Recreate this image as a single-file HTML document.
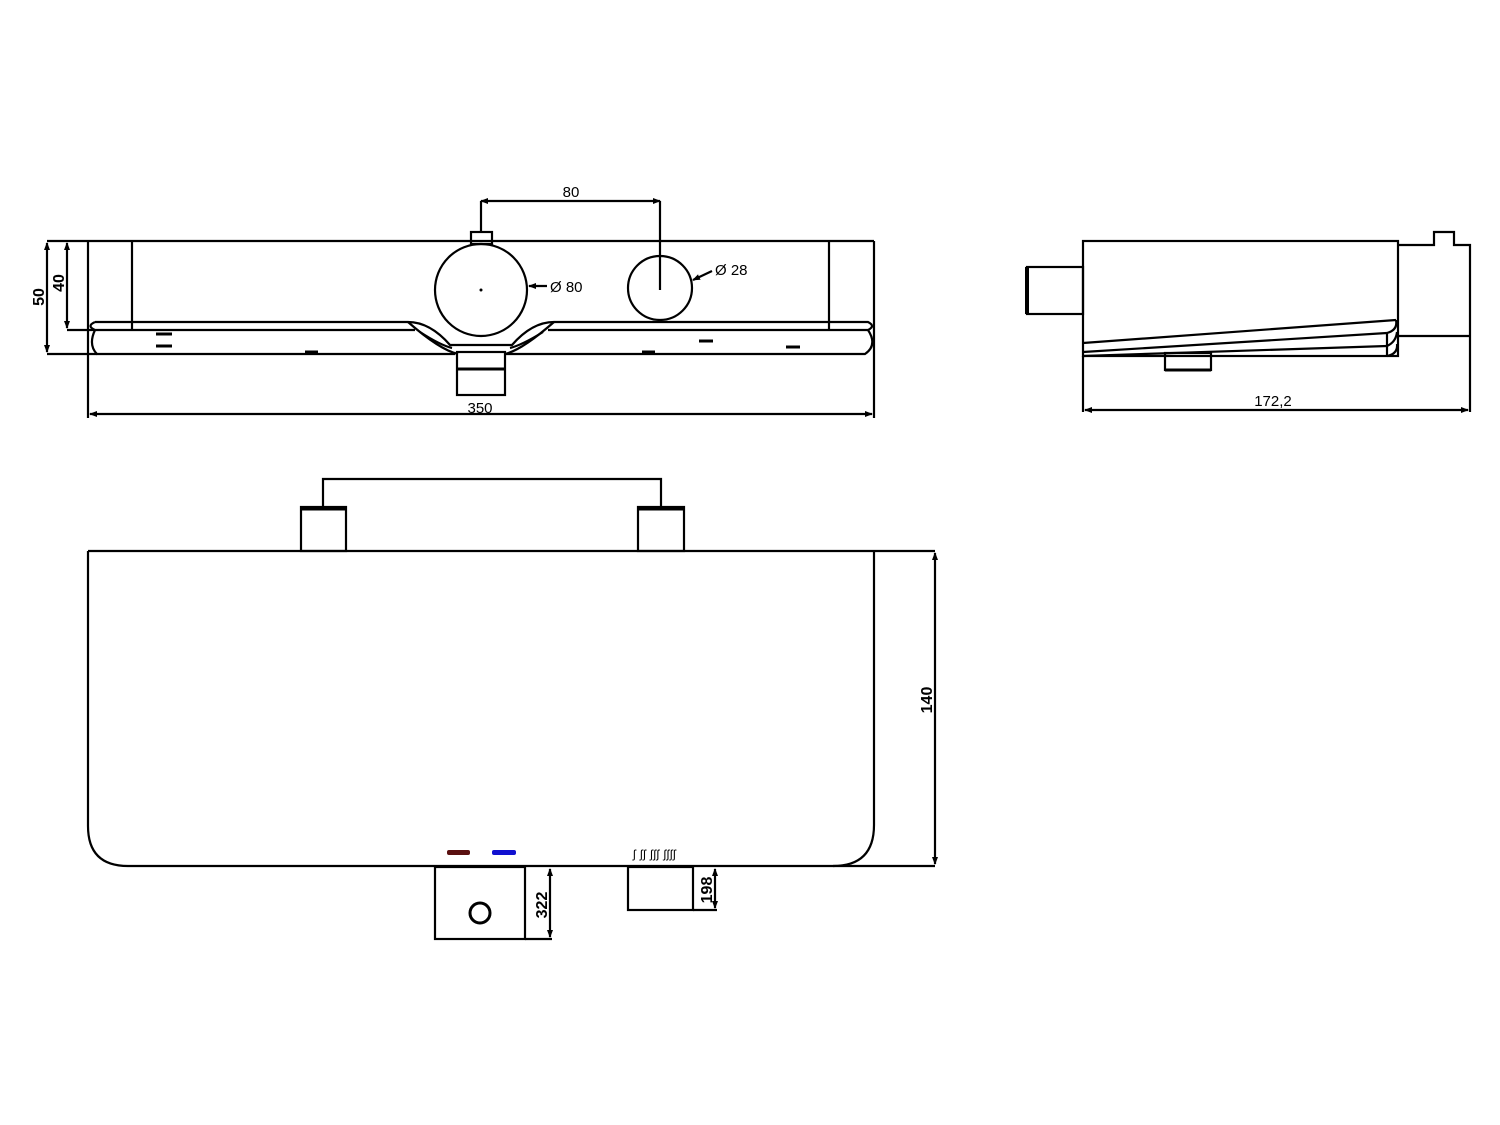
<!DOCTYPE html>
<html><head><meta charset="utf-8"><style>html,body{margin:0;padding:0;background:#fff}svg{display:block}</style></head>
<body>
<svg width="1500" height="1125" viewBox="0 0 1500 1125" xmlns="http://www.w3.org/2000/svg" font-family="Liberation Sans, sans-serif">
<defs>
<marker id="a" markerWidth="8" markerHeight="6" refX="7" refY="3" orient="auto-start-reverse" markerUnits="userSpaceOnUse"><path d="M0,0 L8,3 L0,6z" fill="#000"/></marker>
</defs>
<g fill="none" stroke="#000" stroke-width="2.2">
<!-- TOP VIEW -->
<line x1="47" y1="241" x2="874" y2="241"/>
<line x1="88" y1="241" x2="88" y2="418"/>
<line x1="874" y1="241" x2="874" y2="418"/>
<line x1="132" y1="241" x2="132" y2="330"/>
<line x1="829" y1="241" x2="829" y2="330"/>
<path d="M95,322 L408,322 Q430,322 450,345 L512,345 Q532,322 554,322 L868,322 Q876,326 868,330 L548,330"/>
<path d="M95,322 Q86,326 95,330 L415,330"/>
<path d="M95,330 Q88,345 97,354 L455,354"/>
<path d="M868,330 Q878,345 865,354 L505,354"/>
<path d="M408,322 Q440,350 458,354 M554,322 Q522,350 505,354"/>
<path d="M420,332 Q440,345 452,348 M543,332 Q522,345 510,348"/>
<line x1="47" y1="354" x2="97" y2="354"/>
<line x1="67" y1="330" x2="95" y2="330"/>
<circle cx="481" cy="290" r="46"/>
<circle cx="660" cy="288" r="32"/>
<rect x="471" y="232" width="21" height="12"/>
<rect x="457" y="352" width="48" height="43"/>
<line x1="457" y1="369" x2="505" y2="369" stroke-width="3"/>
<line x1="481" y1="232" x2="481" y2="201"/>
<line x1="660" y1="201" x2="660" y2="290"/>
<line x1="481" y1="201" x2="660" y2="201" marker-start="url(#a)" marker-end="url(#a)"/>
<line x1="47" y1="243" x2="47" y2="352" marker-start="url(#a)" marker-end="url(#a)"/>
<line x1="67" y1="243" x2="67" y2="328" marker-start="url(#a)" marker-end="url(#a)"/>
<line x1="90" y1="414" x2="872" y2="414" marker-start="url(#a)" marker-end="url(#a)"/>
<line x1="547" y1="286" x2="529" y2="286" marker-end="url(#a)"/>
<line x1="712" y1="271" x2="693" y2="280" marker-end="url(#a)"/>
<g stroke-width="3"><line x1="156" y1="334" x2="172" y2="334"/><line x1="156" y1="346" x2="172" y2="346"/><line x1="305" y1="352" x2="318" y2="352"/><line x1="642" y1="352" x2="655" y2="352"/><line x1="699" y1="341" x2="713" y2="341"/><line x1="786" y1="347" x2="800" y2="347"/></g>
<!-- SIDE VIEW -->
<rect x="1083" y="241" width="315" height="115"/>
<rect x="1027" y="267" width="56" height="47"/>
<line x1="1027" y1="267" x2="1027" y2="314" stroke-width="4"/>
<path d="M1398,245 L1434,245 L1434,232 L1454,232 L1454,245 L1470,245 L1470,412"/>
<line x1="1398" y1="336" x2="1470" y2="336"/>
<line x1="1083" y1="343" x2="1396" y2="320"/>
<line x1="1083" y1="352" x2="1387" y2="333"/>
<line x1="1083" y1="356" x2="1387" y2="346"/>
<path d="M1387,333 Q1398,330 1396,320 M1387,346 Q1396,342 1397,332 M1387,356 Q1398,354 1397,344"/>
<line x1="1387" y1="333" x2="1387" y2="356"/>
<rect x="1165" y="353" width="46" height="17"/>
<line x1="1165" y1="370" x2="1211" y2="370" stroke-width="3"/>
<line x1="1083" y1="356" x2="1083" y2="412"/>
<line x1="1085" y1="410" x2="1468" y2="410" marker-start="url(#a)" marker-end="url(#a)"/>
<!-- FRONT VIEW -->
<line x1="88" y1="551" x2="935" y2="551"/>
<path d="M88,551 L88,826 Q88,866 128,866 L935,866"/>
<path d="M874,551 L874,825 Q874,866 833,866"/>
<line x1="935" y1="553" x2="935" y2="864" marker-start="url(#a)" marker-end="url(#a)"/>
<rect x="301" y="507" width="45" height="44"/>
<rect x="638" y="507" width="46" height="44"/>
<line x1="301" y1="509" x2="346" y2="509" stroke-width="3"/>
<line x1="638" y1="509" x2="684" y2="509" stroke-width="3"/>
<path d="M323,507 L323,479 L661,479 L661,507"/>
<rect x="435" y="867" width="90" height="72"/>
<circle cx="480" cy="913" r="10" stroke-width="3"/>
<path d="M525,939 L552,939"/>
<line x1="550" y1="869" x2="550" y2="937" marker-start="url(#a)" marker-end="url(#a)"/>
<rect x="628" y="867" width="65" height="43"/>
<path d="M693,910 L717,910"/>
<line x1="715" y1="869" x2="715" y2="908" marker-start="url(#a)" marker-end="url(#a)"/>
</g>
<circle cx="481" cy="290" r="1.5" fill="#000"/>
<rect x="447" y="850" width="23" height="5" rx="2" fill="#5a1010"/>
<rect x="492" y="850" width="24" height="5" rx="2" fill="#1010d0"/>
<g fill="#000" font-size="15">
<text x="571" y="197" text-anchor="middle">80</text>
<text x="550" y="292">Ø 80</text>
<text x="715" y="275">Ø 28</text>
<text x="480" y="413" text-anchor="middle">350</text>
<text x="1273" y="406" text-anchor="middle">172,2</text>
<text x="633" y="858" font-size="12" letter-spacing="0.5">ʃ ʃʃ ʃʃʃ ʃʃʃʃ</text>
<g font-weight="bold" font-size="16">
<text transform="translate(44,297) rotate(-90)" text-anchor="middle">50</text>
<text transform="translate(64,283) rotate(-90)" text-anchor="middle">40</text>
<text transform="translate(932,700) rotate(-90)" text-anchor="middle">140</text>
<text transform="translate(547,905) rotate(-90)" text-anchor="middle">322</text>
<text transform="translate(712,890) rotate(-90)" text-anchor="middle">198</text>
</g>
</g>
</svg>
</body></html>
